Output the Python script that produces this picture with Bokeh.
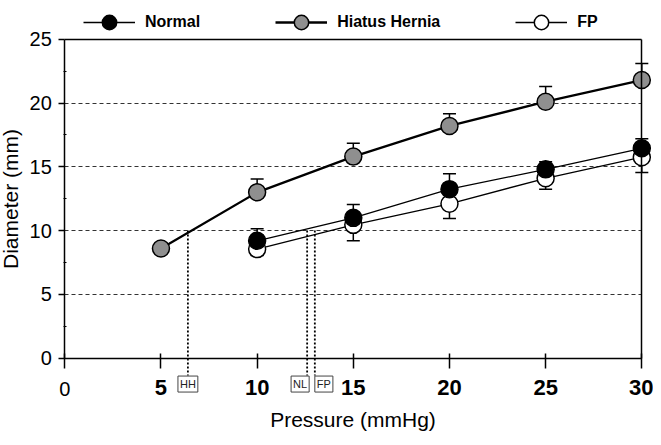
import numpy as np
from bokeh.plotting import figure
from bokeh.models import (Range1d, FixedTicker, Legend, LegendItem, Label, LinearAxis)
from bokeh.embed import file_html
from bokeh.resources import INLINE

# ---- data ----
pressure_hh = [5, 10, 15, 20, 25, 30]
hh_mean = [8.6, 13.0, 15.8, 18.2, 20.1, 21.8]
hh_se = [0.0, 1.05, 1.05, 0.95, 1.2, 1.3]

pressure_nl = [10, 15, 20, 25, 30]
normal_mean = [9.2, 11.0, 13.25, 14.8, 16.45]
normal_se = [0.95, 1.05, 1.2, 0.6, 0.75]

pressure_fp = [10, 15, 20, 25, 30]
fp_mean = [8.55, 10.45, 12.1, 14.1, 15.75]
fp_se = [0.5, 1.25, 1.15, 0.85, 1.2]

# pressure at which each group reaches 10 mm
threshold_diam = 10
cross_labels = ["HH", "NL", "FP"]
cross_pressure = [6.4, 12.6, 13.0]

x_ticks = [0, 5, 10, 15, 20, 25, 30]
y_ticks = [0, 5, 10, 15, 20, 25]
y_minor = [2.5, 7.5, 12.5, 17.5, 22.5]
grid_ticks = [5, 10, 15, 20]
X_MIN, X_MAX = 0, 30
Y_MIN, Y_MAX = 0, 25

FONT = "Liberation Sans"
GRAY = "#8f8f8f"

# layout constants (view extends beyond the data box so that the axes,
# labels and guide marks below the axis are not clipped)
guide_bottom = -1.36
label_y = -1.4
zero_label_y = -1.87

p = figure(width=653, height=437, output_backend="svg", toolbar_location=None,
           x_range=Range1d(-3.343, 30.608), y_range=Range1d(-6.215, 28.033),
           min_border=0, min_border_left=0, min_border_right=0,
           min_border_top=0, min_border_bottom=0)
p.background_fill_color = "white"
p.border_fill_color = "white"
p.outline_line_color = None

# main axes at fixed data positions
p.xaxis.fixed_location = Y_MIN
p.xaxis.bounds = (X_MIN, X_MAX)
p.xaxis.ticker = FixedTicker(ticks=x_ticks)
p.xaxis.major_label_overrides = {0: ""}
p.xaxis.axis_label = "Pressure (mmHg)"
p.xaxis.major_label_text_font = FONT
p.xaxis.major_label_text_font_style = "bold"
p.xaxis.major_label_text_font_size = "22px"
p.xaxis.major_label_text_color = "black"
p.xaxis.major_label_standoff = 12
p.xaxis.major_tick_in = 5
p.xaxis.major_tick_out = 10

p.yaxis.fixed_location = X_MIN
p.yaxis.bounds = (Y_MIN, Y_MAX)
p.yaxis.ticker = FixedTicker(ticks=y_ticks, minor_ticks=y_minor)
p.yaxis.axis_label = "Diameter (mm)"
p.yaxis.major_label_text_font = FONT
p.yaxis.major_label_text_font_size = "20px"
p.yaxis.major_label_text_color = "black"
p.yaxis.major_label_standoff = 7
p.yaxis.major_tick_in = 0
p.yaxis.major_tick_out = 6
p.yaxis.minor_tick_in = 2
p.yaxis.minor_tick_out = 1

for ax in (p.xaxis, p.yaxis):
    ax.axis_line_color = "black"
    ax.axis_line_width = 1.5
    ax.major_tick_line_color = "black"
    ax.major_tick_line_width = 1.5
    ax.minor_tick_line_color = "black"
    ax.axis_label_text_font = FONT
    ax.axis_label_text_font_size = "21px"
    ax.axis_label_text_font_style = "normal"
    ax.axis_label_text_color = "black"
p.xaxis.minor_tick_line_color = None
p.xaxis.axis_label_standoff = 9
p.yaxis.axis_label_standoff = 4

# frame edges (top and right) as bare axes
right_edge = LinearAxis(fixed_location=X_MAX, bounds=(Y_MIN, Y_MAX), ticker=FixedTicker(ticks=[]),
                        axis_line_color="black", axis_line_width=1.5,
                        major_tick_line_color=None, minor_tick_line_color=None,
                        major_label_text_color=None)
top_edge = LinearAxis(fixed_location=Y_MAX, bounds=(X_MIN, X_MAX), ticker=FixedTicker(ticks=[]),
                      axis_line_color="black", axis_line_width=1.5,
                      major_tick_line_color=None, minor_tick_line_color=None,
                      major_label_text_color=None)
p.add_layout(right_edge, "right")
p.add_layout(top_edge, "above")

p.xgrid.grid_line_color = None
p.ygrid.ticker = FixedTicker(ticks=grid_ticks)
p.ygrid.cross_bounds = (X_MIN, X_MAX)
p.ygrid.grid_line_color = "#333333"
p.ygrid.grid_line_dash = "4 3"
p.ygrid.grid_line_width = 1.2

# dotted guide lines at 10 mm crossing, extending below the axis
p.segment(cross_pressure, [threshold_diam] * len(cross_pressure), cross_pressure,
          [guide_bottom] * len(cross_pressure), line_color="black", line_width=1.8,
          line_dash="2 2")

align = {"HH": ("center", 0), "NL": ("right", 2), "FP": ("left", 0)}
for lab, xp in zip(cross_labels, cross_pressure):
    a, off = align[lab]
    p.add_layout(Label(x=xp, y=label_y, text=lab, text_align=a, text_baseline="top",
                       x_offset=off, text_font=FONT, text_font_size="11px",
                       text_color="#222222", border_line_color="#444444",
                       border_line_width=1, background_fill_color="white", padding=2))

p.add_layout(Label(x=0, y=zero_label_y, text="0", text_align="center", text_baseline="top",
                   text_font=FONT, text_font_size="20px", text_color="black"))

# series
hh_top = np.array(hh_mean) + np.array(hh_se)
nl_top = np.array(normal_mean) + np.array(normal_se)
fp_bot = np.array(fp_mean) - np.array(fp_se)

MS = 17
hh_line = p.line(pressure_hh, hh_mean, line_color="black", line_width=2.3)
p.segment(pressure_hh, hh_mean, pressure_hh, hh_top, line_color="black", line_width=1.5)
p.scatter(pressure_hh, hh_top, marker="dash", size=13, line_color="black", line_width=1.5)
hh_pts = p.scatter(pressure_hh, hh_mean, size=MS, fill_color=GRAY, line_color="black", line_width=1.5)

fp_line = p.line(pressure_fp, fp_mean, line_color="black", line_width=1.3)
p.segment(pressure_fp, fp_mean, pressure_fp, fp_bot, line_color="black", line_width=1.5)
p.scatter(pressure_fp, fp_bot, marker="dash", size=13, line_color="black", line_width=1.5)
fp_pts = p.scatter(pressure_fp, fp_mean, size=MS, fill_color="white", line_color="black", line_width=1.5)

nl_line = p.line(pressure_nl, normal_mean, line_color="black", line_width=1.3)
p.segment(pressure_nl, normal_mean, pressure_nl, nl_top, line_color="black", line_width=1.5)
p.scatter(pressure_nl, nl_top, marker="dash", size=13, line_color="black", line_width=1.5)
nl_pts = p.scatter(pressure_nl, normal_mean, size=MS, fill_color="black", line_color="black", line_width=1.5)

legend = Legend(items=[
    LegendItem(label="Normal", renderers=[nl_line, nl_pts]),
    LegendItem(label="Hiatus Hernia", renderers=[hh_line, hh_pts]),
    LegendItem(label="FP", renderers=[fp_line, fp_pts]),
], orientation="horizontal", location=(83, 397), glyph_width=52, glyph_height=36,
    label_standoff=10, spacing=75, padding=0, margin=0,
    label_text_font=FONT, label_text_font_size="16px", label_text_font_style="bold",
    label_text_color="black", border_line_color=None, background_fill_alpha=0)
p.add_layout(legend, "center")

open("out.html", "w").write(file_html(p, INLINE))
